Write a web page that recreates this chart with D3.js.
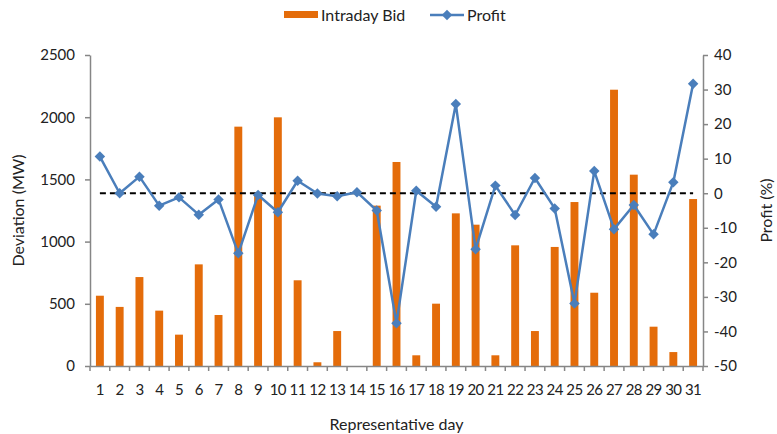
<!DOCTYPE html>
<html>
<head>
<meta charset="utf-8">
<script src="https://cdn.jsdelivr.net/npm/d3@7"></script>
<style>
  body { margin: 0; background: #fff; }
  text { font-family: Lato, "Open Sans", sans-serif; fill: #222; }
</style>
</head>
<body>
<svg id="chart" width="777" height="434"></svg>
<script>
// Chart data.
const days = d3.range( 1, 32 ).map( String );
const intradayBid = [
  565, 475, 715, 445, 252, 817, 410, 1924, 1372, 1999,
  689, 30, 281, 0, 1289, 1640, 86, 501, 1227, 1136,
  86, 970, 281, 957, 1318, 589, 2221, 1538, 316, 112, 1342
];
const profit = [
  10.6, 0.0, 4.8, -3.6, -1.2, -6.2, -1.8, -17.4, -0.5, -5.5,
  3.6, -0.1, -0.9, 0.3, -5.0, -37.6, 0.7, -3.9, 25.8, -16.2,
  2.2, -6.3, 4.4, -4.4, -31.9, 6.4, -10.4, -3.4, -11.9, 3.2, 31.7
];
const leftTicks  = [ 0, 500, 1000, 1500, 2000, 2500 ];
const rightTicks = [ -50, -40, -30, -20, -10, 0, 10, 20, 30, 40 ];

// Layout.
const plot = { left: 90, right: 703, top: 55, bottom: 366 };
const axisColor = '#868686';
const barColor  = '#e46c0a';
const lineColor = '#4a7ebb';

const svg = d3.select( '#chart' );

const x  = d3.scaleBand( ).domain( days ).range( [ plot.left, plot.right ] ).paddingInner( 0.6 ).paddingOuter( 0.3 );
const xc = d => x( d ) + x.bandwidth( ) / 2;
const yL = d3.scaleLinear( ).domain( [ 0, 2500 ] ).range( [ plot.bottom, plot.top ] );
const yR = d3.scaleLinear( ).domain( [ -50, 40 ] ).range( [ plot.bottom, plot.top ] );

// Bars.
svg.append( 'g' ).selectAll( 'rect' )
  .data( intradayBid )
  .join( 'rect' )
    .attr( 'x'     , ( d, i ) => x( days[i] ) )
    .attr( 'y'     , d => yL( d ) )
    .attr( 'width' , x.bandwidth( ) )
    .attr( 'height', d => yL( 0 ) - yL( d ) )
    .attr( 'fill'  , barColor );

// Dashed zero line for profit.
svg.append( 'line' )
  .attr( 'x1', xc( days[0] ) )
  .attr( 'x2', xc( days[days.length - 1] ) )
  .attr( 'y1', yR( 0 ) )
  .attr( 'y2', yR( 0 ) )
  .attr( 'stroke', '#000' )
  .attr( 'stroke-width', 2 )
  .attr( 'stroke-dasharray', '6,4' );

// Profit line and diamonds.
const line = d3.line( ).x( ( d, i ) => xc( days[i] ) ).y( d => yR( d ) );
svg.append( 'path' )
  .datum( profit )
  .attr( 'd', line )
  .attr( 'fill', 'none' )
  .attr( 'stroke', lineColor )
  .attr( 'stroke-width', 2.5 )
  .attr( 'stroke-linejoin', 'round' );

const diamond = d3.symbol( ).type( d3.symbolDiamond2 ).size( 70 );
svg.append( 'g' ).selectAll( 'path' )
  .data( profit )
  .join( 'path' )
    .attr( 'transform', ( d, i ) => `translate(${xc( days[i] )},${yR( d )})` )
    .attr( 'd', diamond )
    .attr( 'fill', lineColor );

// Axes.
const styleAxis = g => {
  g.select( '.domain' ).attr( 'stroke', axisColor ).attr( 'stroke-width', 1.5 );
  g.selectAll( '.tick line' ).attr( 'stroke', axisColor ).attr( 'stroke-width', 1.5 );
  g.selectAll( '.tick text' ).attr( 'font-size', 15 ).attr( 'fill', '#222' );
};
const plain = d => String( d );

svg.append( 'g' )
  .attr( 'transform', `translate(${plot.left},0)` )
  .call( d3.axisLeft( yL ).tickValues( leftTicks ).tickFormat( plain ).tickSize( 5 ).tickSizeOuter( 0 ).tickPadding( 10 ) )
  .call( styleAxis );

svg.append( 'g' )
  .attr( 'transform', `translate(${plot.right},0)` )
  .call( d3.axisRight( yR ).tickValues( rightTicks ).tickFormat( plain ).tickSize( 5 ).tickSizeOuter( 0 ).tickPadding( 6 ) )
  .call( styleAxis );

// X axis: labels centred under bars, tick marks between categories.
const xAxis = svg.append( 'g' ).attr( 'transform', `translate(0,${plot.bottom})` );
xAxis.call( d3.axisBottom( x ).tickSize( 0 ).tickPadding( 18 ) ).call( styleAxis );
xAxis.selectAll( '.tick text' ).attr( 'letter-spacing', -0.6 );
const step = ( plot.right - plot.left ) / days.length;
xAxis.selectAll( '.sep' )
  .data( d3.range( days.length + 1 ) )
  .join( 'line' )
    .attr( 'class', 'sep' )
    .attr( 'x1', i => plot.left + i * step )
    .attr( 'x2', i => plot.left + i * step )
    .attr( 'y1', 0 )
    .attr( 'y2', 5 )
    .attr( 'stroke', axisColor )
    .attr( 'stroke-width', 1.5 );

// Axis titles.
svg.append( 'text' )
  .attr( 'transform', `translate(24,${( plot.top + plot.bottom ) / 2}) rotate(-90)` )
  .attr( 'text-anchor', 'middle' )
  .attr( 'font-size', 16 )
  .text( 'Deviation (MW)' );

svg.append( 'text' )
  .attr( 'transform', `translate(772,${( plot.top + plot.bottom ) / 2}) rotate(-90)` )
  .attr( 'text-anchor', 'middle' )
  .attr( 'font-size', 16 )
  .text( 'Profit (%)' );

svg.append( 'text' )
  .attr( 'x', ( plot.left + plot.right ) / 2 )
  .attr( 'y', 430 )
  .attr( 'text-anchor', 'middle' )
  .attr( 'font-size', 16 )
  .text( 'Representative day' );

// Legend.
const legend = svg.append( 'g' );
legend.append( 'rect' )
  .attr( 'x', 284 ).attr( 'y', 11 ).attr( 'width', 34 ).attr( 'height', 7 )
  .attr( 'fill', barColor );
legend.append( 'text' )
  .attr( 'x', 321 ).attr( 'y', 21 ).attr( 'font-size', 16 )
  .text( 'Intraday Bid' );
legend.append( 'line' )
  .attr( 'x1', 430 ).attr( 'x2', 464 ).attr( 'y1', 15 ).attr( 'y2', 15 )
  .attr( 'stroke', lineColor ).attr( 'stroke-width', 2.5 );
legend.append( 'path' )
  .attr( 'transform', 'translate(447,15)' )
  .attr( 'd', diamond )
  .attr( 'fill', lineColor );
legend.append( 'text' )
  .attr( 'x', 467 ).attr( 'y', 21 ).attr( 'font-size', 16 )
  .text( 'Profit' );
</script>
</body>
</html>
